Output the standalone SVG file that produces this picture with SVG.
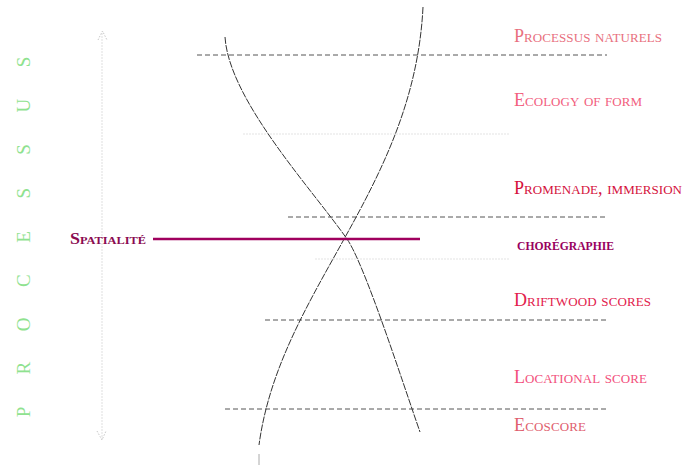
<svg xmlns="http://www.w3.org/2000/svg" width="683" height="468" viewBox="0 0 683 468">
<style>
.lbl{font-family:"Liberation Serif","Times New Roman",serif;font-variant:small-caps;font-size:18px}
.dash{stroke:#555;stroke-width:1;stroke-dasharray:5,3;fill:none}
.faint{stroke:#e4e4e4;stroke-width:1.2;stroke-dasharray:2,1;fill:none}
.curve{stroke:#333;stroke-width:1;stroke-dasharray:7,1.2;fill:none}
</style>
<rect width="683" height="468" fill="#fff"/>
<g id="processus-axis">
<line x1="102" y1="33" x2="102" y2="439" stroke="#eaeaea" stroke-width="1.5" stroke-dasharray="2,1"/>
<polyline points="98,40 102.5,31 107,40" fill="none" stroke="#c8c8c8" stroke-width="1" stroke-dasharray="1.5,1.5"/>
<polyline points="97,431 102,440 106,431" fill="none" stroke="#c8c8c8" stroke-width="1" stroke-dasharray="1.5,1.5"/>
<text transform="translate(30,0) rotate(-90)" font-family="Liberation Serif,Times New Roman,serif" font-size="19" fill="#8fe28f" text-anchor="middle" x="-412 -368.25 -324.5 -280.75 -237 -193.25 -149.5 -105.75 -62">PROCESSUS</text>
</g>
<g id="connectors">
<line class="dash" x1="197" y1="55" x2="607" y2="55"/>
<line class="faint" x1="243" y1="134" x2="510" y2="134"/>
<line class="dash" x1="288" y1="217" x2="607" y2="217"/>
<line class="faint" x1="315" y1="259" x2="510" y2="259"/>
<line class="dash" x1="265" y1="320" x2="607" y2="320"/>
<line class="dash" x1="225" y1="409" x2="607" y2="409" stroke="#777"/>
<path class="curve" d="M225,37 C229,100 312,189 347,239 C364.5,264 402.5,382 420,432"/>
<path class="curve" d="M423,7 C414,190 280,290 259,445"/>
<line x1="259" y1="454" x2="259" y2="465" stroke="#aaa" stroke-width="1"/>
<line x1="153" y1="239" x2="420" y2="239" stroke="#a0005e" stroke-width="2.5"/>
</g>
<g id="spatialite"><text x="70" y="244" font-family="Liberation Serif,Times New Roman,serif" font-size="16" font-weight="bold" font-variant="small-caps" fill="#8a0a50" textLength="76" lengthAdjust="spacingAndGlyphs">Spatialité</text></g>
<g id="processus-naturels"><text class="lbl" x="514" y="42" fill="#e8707e" textLength="148">Processus naturels</text></g>
<g id="ecology-of-form"><text class="lbl" x="514" y="106" fill="#f2607e" textLength="128">Ecology of form</text></g>
<g id="promenade-immersion"><text class="lbl" x="514" y="194" fill="#d4103c" textLength="168">Promenade, immersion</text></g>
<g id="choregraphie"><text class="lbl" x="517" y="250" fill="#98005e" font-weight="bold" font-size="21" textLength="97" lengthAdjust="spacingAndGlyphs">chorégraphie</text></g>
<g id="driftwood-scores"><text class="lbl" x="514" y="306" fill="#e2204c" textLength="137">Driftwood scores</text></g>
<g id="locational-score"><text class="lbl" x="514" y="383" fill="#f2507c" textLength="133">Locational score</text></g>
<g id="ecoscore"><text class="lbl" x="514" y="431" fill="#e0606e" textLength="72">Ecoscore</text></g>
</svg>
